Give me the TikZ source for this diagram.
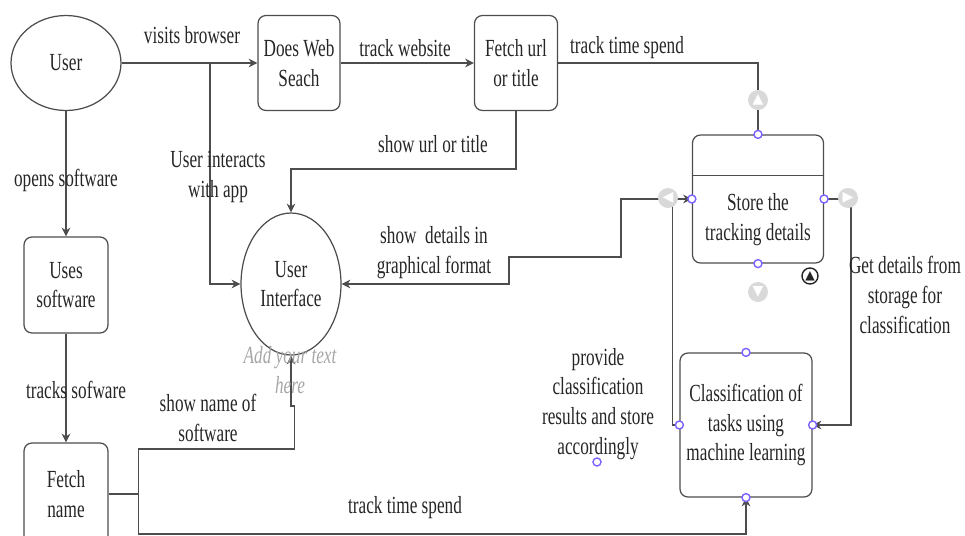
\documentclass[tikz,border=0pt]{standalone}
\usepackage{fontspec}
\setmainfont{Liberation Serif}[FakeStretch=0.7]
\newfontfamily\symfont{DejaVu Sans}
\usetikzlibrary{shapes.geometric,arrows.meta}
\definecolor{linegray}{HTML}{4D4D4D}
\definecolor{portblue}{HTML}{7B61FF}

\begin{document}
\fontsize{14}{17}\selectfont
\begin{tikzpicture}[x=0.02cm, y=-0.02cm]
\tikzset{
    box/.style={rectangle, draw=linegray, line width=0.7pt, rounded corners=4.5pt, align=center, inner sep=2pt, text=black!85},
    bubble/.style={ellipse, draw=linegray, line width=0.7pt, align=center, inner sep=0pt, text=black!85},
    conn/.style={draw=linegray, line width=0.7pt, -{Stealth[length=5pt,width=5pt]}},
    wire/.style={draw=linegray, line width=0.7pt},
    lbl/.style={align=center, text=black!85, inner sep=1pt},
    port/.style={circle, draw=portblue, line width=0.8pt, fill=white, inner sep=0pt, minimum size=0.16cm},
    handle/.style={circle, fill=black!15, inner sep=0pt, minimum size=0.4cm, text=white, font=\symfont\fontsize{8}{8}\selectfont}
}
\useasboundingbox (0,0) rectangle (965,535);

% nodes
\node[bubble, minimum width=2.2cm, minimum height=1.9cm] (user) at (66,63) {User};
\node[box, minimum width=1.64cm, minimum height=1.9cm] (websearch) at (299,63) {Does Web\\Seach};
\node[box, minimum width=1.66cm, minimum height=1.9cm] (fetchurl) at (516,63) {Fetch url\\or title};
\node[bubble, minimum width=2.0cm, minimum height=2.84cm] (ui) at (291,284) {User\\Interface};
\node[box, minimum width=1.68cm, minimum height=1.92cm] (uses) at (66,285) {Uses\\software};
\node[box, minimum width=1.68cm, minimum height=2.04cm] (fetchname) at (66,494) {Fetch\\name};
\node[box, minimum width=2.62cm, minimum height=2.56cm, label={[lbl, yshift=-0.42cm]center:Store the\\tracking details}] (store) at (758,199) {};
\draw[wire] ([yshift=-0.82cm]store.north west) -- ([yshift=-0.82cm]store.north east);
\node[box, minimum width=2.64cm, minimum height=2.88cm] (classify) at (746,425) {Classification of\\tasks using\\machine learning};
\coordinate (split) at (210,63);

% connectors
\draw[conn] (user) -- (websearch);
\draw[conn] (split) |- (ui.west);
\draw[conn] (websearch) -- (fetchurl);
\draw[wire] (fetchurl.east) -| (store.north);
\draw[conn] (fetchurl.south) -- ++(0,58) -| (ui.north);
\draw[conn] (store.west) -- ++(-71,0) -- ++(0,58) -- ++(-112,0) |- (ui.east);
\draw[conn] (classify.west) -- ++(-7,0) |- (store.west);
\draw[conn] (store.east) -- ++(27,0) |- (classify.east);
\draw[conn] (user) -- (uses);
\draw[conn] (uses) -- (fetchname);
\draw[conn] (fetchname.east) -- ++(30,0) coordinate (fork) -- ++(0,-45) -- ++(156,0) -- ++(0,-43) -| (ui.south);
\draw[conn] (fork) -- ++(0,40) -| (classify.south);

% labels
\node[lbl] (visits) at (192,35) {visits browser};
\node[lbl] (trackweb) at (405,48) {track website};
\node[lbl] (tracktop) at (627,48) {track time spend};
\node[lbl] (interacts) at (218,177) {User interacts\\with app};
\node[lbl] (showurl) at (433,144) {show url or title};
\node[lbl] (showdetails) at (434,253) {show\ \ details in\\graphical format};
\node[lbl] (opens) at (66,180) {opens software};
\node[lbl] (tracksw) at (76,390) {tracks sofware};
\node[lbl] (showname) at (208,418) {show name of\\software};
\node[lbl] (trackbottom) at (405,508) {track time spend};
\node[lbl] (provide) at (598,404) {provide\\classification\\results and store\\accordingly};
\node[lbl] (getdetails) at (905,295) {Get details from\\storage for\\classification};
\node[lbl, text=black!35, font=\itshape] (hint) at (290,370) {Add your text\\here};

% ports and handles
\node[port] (storeN) at (store.north) {};
\node[port] (storeW) at (store.west) {};
\node[port] (storeE) at (store.east) {};
\node[port] (storeS) at (store.south) {};
\node[port] (classN) at (classify.north) {};
\node[port] (classW) at (classify.west) {};
\node[port] (classE) at (classify.east) {};
\node[port] (classS) at (classify.south) {};
\node[port] (stray) at (597,462) {};
\node[handle] (hup) at (758,100) {▲};
\node[handle] (hleft) at (668,198) {◀};
\node[handle] (hright) at (848,198) {▶};
\node[handle] (hdown) at (758,292) {▼};
\node[handle, fill=white, draw=black!85, line width=0.8pt, minimum size=0.32cm, text=black!85, font=\symfont\fontsize{7}{7}\selectfont] (hmark) at (810,276) {▲};
\end{tikzpicture}
\end{document}
